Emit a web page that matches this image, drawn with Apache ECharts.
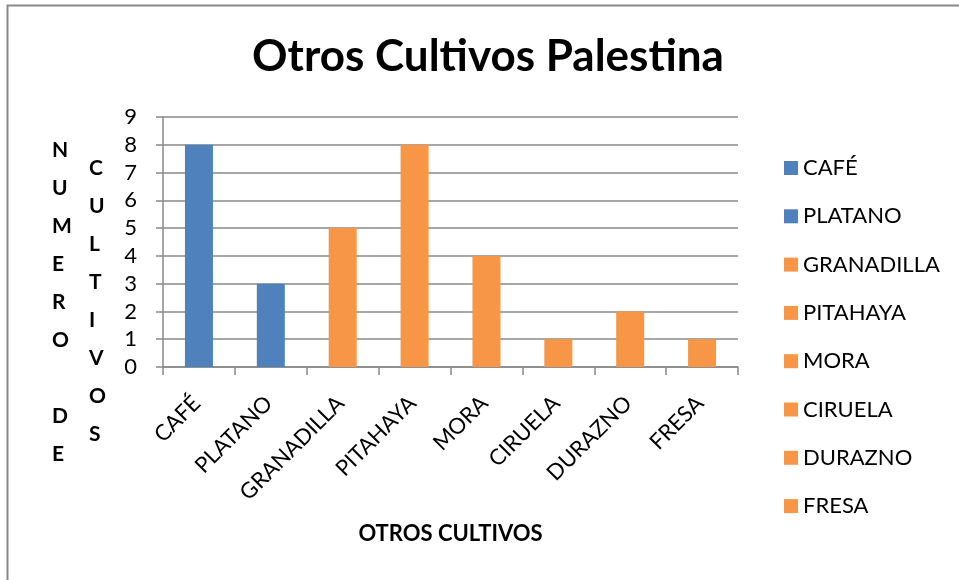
<!DOCTYPE html>
<html>
<head>
<meta charset="utf-8">
<script src="https://cdn.jsdelivr.net/npm/echarts@6/dist/echarts.min.js"></script>
<style>
  html, body { margin: 0; padding: 0; background: #fff; }
  #chart { width: 959px; height: 580px; }
</style>
</head>
<body>
<div id="chart"></div>
<script>
// datos
var categories = ['CAFÉ', 'PLATANO', 'GRANADILLA', 'PITAHAYA', 'MORA', 'CIRUELA', 'DURAZNO', 'FRESA'];
var values = [8, 3, 5, 8, 4, 1, 2, 1];
var barColors = ['#4F81BD', '#4F81BD', '#F79646', '#F79646', '#F79646', '#F79646', '#F79646', '#F79646'];
var yTicks = [0, 1, 2, 3, 4, 5, 6, 7, 8, 9];

var myChart = echarts.init(document.getElementById('chart'));
var font = 'Lato, "Liberation Sans", sans-serif';
var gray = '#898989';

// una serie por categoria para que la leyenda muestre cada una
var series = categories.map(function(name, i) {
    var d = categories.map(function(c, j) { return j === i ? values[i] : '-'; });
    return {
        name: name,
        type: 'bar',
        stack: 'total',
        barWidth: 28,
        itemStyle: { color: barColors[i] },
        data: d
    };
});

var option = {
    animation: false,
    backgroundColor: '#fff',
    title: {
        text: 'Otros Cultivos Palestina',
        left: 483,
        textAlign: 'center',
        top: 30,
        textStyle: { fontFamily: font, fontSize: 44, fontWeight: 'bold', color: '#000' }
    },
    legend: {
        orient: 'vertical',
        left: 779,
        top: 152,
        icon: 'rect',
        itemWidth: 14,
        itemHeight: 14,
        itemGap: 26.3,
        itemTextGap: 8,
        data: categories,
        textStyle: { fontFamily: font, fontSize: 22, color: '#000', lineHeight: 22 }
    },
    grid: { left: 163, right: 221, top: 117, bottom: 213, containLabel: false },
    xAxis: {
        type: 'category',
        data: categories,
        name: 'OTROS CULTIVOS',
        nameLocation: 'middle',
        nameGap: 156,
        nameTextStyle: { fontFamily: font, fontSize: 22, fontWeight: 'bold', color: '#000' },
        axisLine: { lineStyle: { color: gray, width: 1.5 } },
        axisTick: { show: true, length: 8, alignWithLabel: false, lineStyle: { color: gray, width: 1.5 } },
        axisLabel: {
            rotate: 45, margin: 15, align: 'right', verticalAlign: 'top',
            padding: [0, 14, 0, 0],
            fontFamily: font, fontSize: 22, color: '#000', interval: 0
        }
    },
    yAxis: {
        type: 'value',
        min: 0,
        max: yTicks[yTicks.length - 1],
        interval: 1,
        axisLine: { show: true, lineStyle: { color: gray, width: 1.5 } },
        axisTick: { show: true, length: 7, lineStyle: { color: gray, width: 1.5 } },
        axisLabel: { margin: 26, fontFamily: font, fontSize: 22, color: '#000' },
        splitLine: { show: true, lineStyle: { color: gray, width: 1.5 } }
    },
    graphic: [
        {
            type: 'rect',
            shape: { x: 7.5, y: 5.5, width: 1200, height: 1200 },
            style: { fill: 'none', stroke: gray, lineWidth: 2 },
            silent: true
        },
        {
            type: 'text',
            left: 52,
            top: 131,
            style: {
                text: 'N\nU\nM\nE\nR\nO\n \nD\nE',
                fontFamily: font, fontSize: 21, fontWeight: 'bold', fill: '#000',
                lineHeight: 38, align: 'center'
            }
        },
        {
            type: 'text',
            left: 89,
            top: 149,
            style: {
                text: 'C\nU\nL\nT\nI\nV\nO\nS',
                fontFamily: font, fontSize: 21, fontWeight: 'bold', fill: '#000',
                lineHeight: 38, align: 'center'
            }
        }
    ],
    series: series
};

myChart.setOption(option);
</script>
</body>
</html>
